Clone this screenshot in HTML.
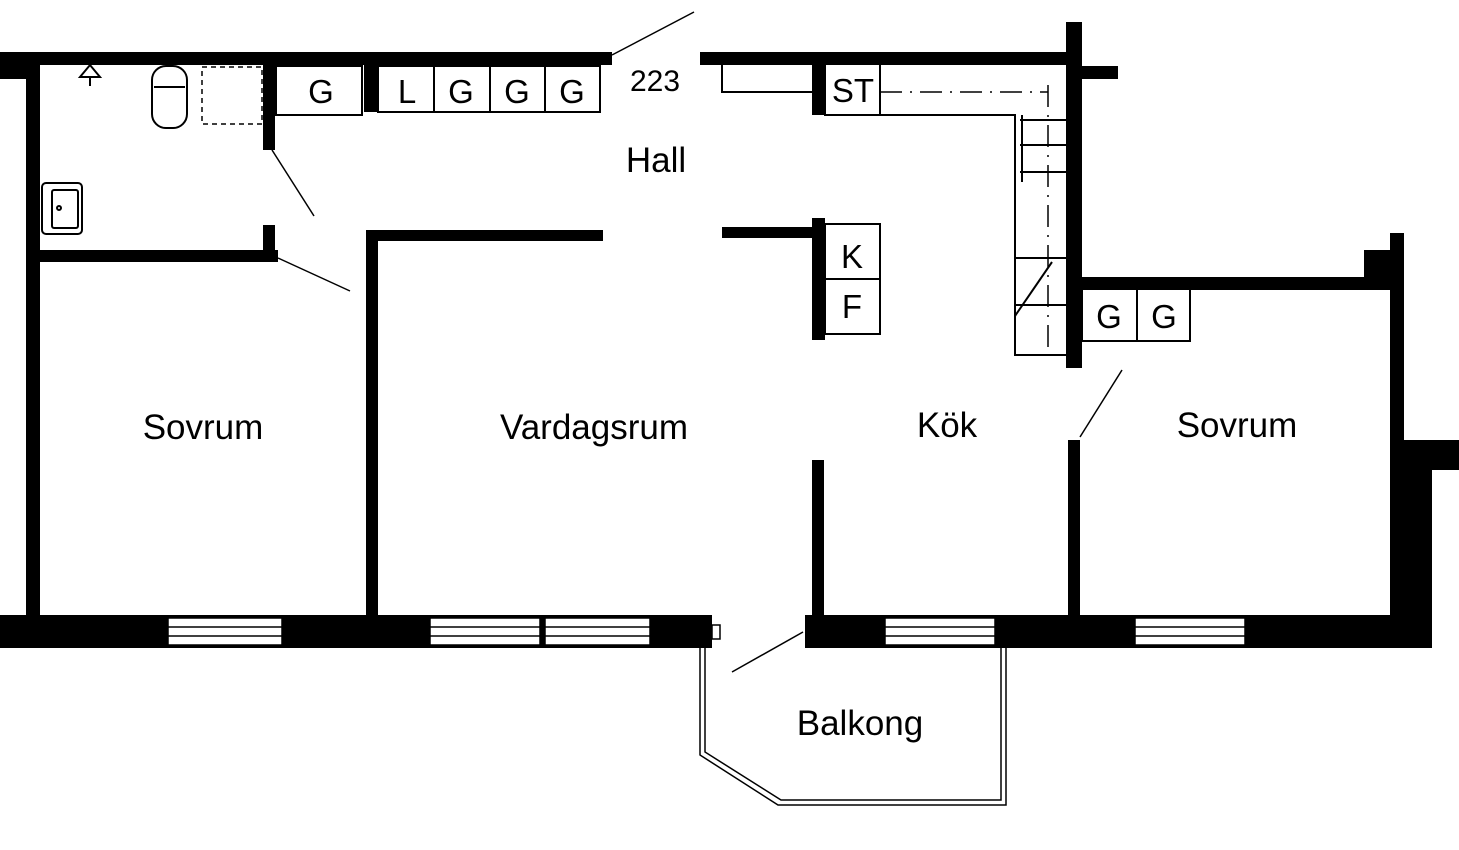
<!DOCTYPE html>
<html><head><meta charset="utf-8"><style>
html,body{margin:0;padding:0;background:#fff;}
svg{display:block;}
text{font-family:"Liberation Sans",Arial,sans-serif;fill:#000;}
</style></head><body>
<svg width="1459" height="850" viewBox="0 0 1459 850" xmlns="http://www.w3.org/2000/svg">
<g fill="#000">
<rect x="0" y="52" width="612" height="13"/>
<rect x="0" y="52" width="28" height="27"/>
<rect x="26" y="52" width="14" height="568"/>
<rect x="700" y="52" width="372" height="13"/>
<rect x="1066" y="22" width="16" height="346"/>
<rect x="1082" y="66" width="36" height="13"/>
<rect x="263" y="64" width="12" height="86"/>
<rect x="40" y="250" width="238" height="12"/>
<rect x="263" y="225" width="12" height="37"/>
<rect x="364" y="64" width="14" height="48"/>
<rect x="366" y="230" width="237" height="11"/>
<rect x="366" y="230" width="12" height="402"/>
<rect x="722" y="227" width="93" height="11"/>
<rect x="812" y="218" width="13" height="122"/>
<rect x="812" y="460" width="12" height="160"/>
<rect x="812" y="64" width="13" height="51"/>
<rect x="1068" y="440" width="12" height="192"/>
<rect x="1082" y="277" width="322" height="13"/>
<rect x="1364" y="250" width="30" height="38"/>
<rect x="1390" y="233" width="14" height="415"/>
<rect x="1404" y="440" width="28" height="208"/>
<rect x="1404" y="440" width="55" height="30"/>
<rect x="0" y="615" width="712" height="33"/>
<rect x="805" y="615" width="627" height="33"/>
</g>
<g fill="#fff" stroke="#000" stroke-width="1.5">
<rect x="168" y="618" width="114" height="27"/>
<rect x="430" y="618" width="110" height="27"/>
<rect x="545" y="618" width="105" height="27"/>
<rect x="885" y="618" width="110" height="27"/>
<rect x="1135" y="618" width="110" height="27"/>
</g>
<g stroke="#000" stroke-width="1.5">
<line x1="168" y1="627" x2="282" y2="627"/><line x1="168" y1="636" x2="282" y2="636"/>
<line x1="430" y1="627" x2="650" y2="627"/><line x1="430" y1="636" x2="650" y2="636"/>
<line x1="885" y1="627" x2="995" y2="627"/><line x1="885" y1="636" x2="995" y2="636"/>
<line x1="1135" y1="627" x2="1245" y2="627"/><line x1="1135" y1="636" x2="1245" y2="636"/>
</g>
<g fill="none" stroke="#000" stroke-width="2">
<rect x="276" y="66" width="86" height="49"/>
<rect x="378" y="66" width="222" height="46"/>
<line x1="434" y1="66" x2="434" y2="112"/><line x1="490" y1="66" x2="490" y2="112"/><line x1="545" y1="66" x2="545" y2="112"/>
<rect x="825" y="224" width="55" height="110"/><line x1="825" y1="279" x2="880" y2="279"/>
<rect x="1082" y="288" width="108" height="53"/><line x1="1137" y1="288" x2="1137" y2="341"/>
<polyline points="722,64 722,92 812,92"/>
<rect x="825" y="64" width="55" height="51"/>
<polyline points="880,115 1015,115 1015,355 1066,355"/>
<line x1="1015" y1="258" x2="1066" y2="258"/>
<line x1="1015" y1="305" x2="1066" y2="305"/>
<line x1="1015" y1="316" x2="1052" y2="262"/>
<line x1="1020" y1="120" x2="1066" y2="120"/>
<line x1="1020" y1="145" x2="1066" y2="145"/>
<line x1="1020" y1="172" x2="1066" y2="172"/>
<line x1="1022" y1="115" x2="1022" y2="182"/>
<line x1="880" y1="92" x2="1048" y2="92" stroke-dasharray="22 8 2 8" stroke-width="1.5"/>
<line x1="1048" y1="85" x2="1048" y2="355" stroke-dasharray="22 8 2 8" stroke-width="1.5"/>
<rect x="202" y="67" width="60" height="57" stroke-dasharray="5 4" stroke-width="1.5"/>
<rect x="152" y="66" width="35" height="62" rx="14"/>
<line x1="154" y1="87" x2="185" y2="87"/>
<rect x="42" y="183" width="40" height="51" rx="4"/>
<rect x="52" y="190" width="26" height="38" rx="2"/>
<circle cx="59" cy="208" r="2"/>
<polygon points="80,77 90,65 100,77" />
<line x1="90" y1="77" x2="90" y2="86"/>
<line x1="612" y1="55" x2="694" y2="12" stroke-width="1.5"/>
<line x1="272" y1="150" x2="314" y2="216" stroke-width="1.5"/>
<line x1="278" y1="258" x2="350" y2="291" stroke-width="1.5"/>
<line x1="1080" y1="437" x2="1122" y2="370" stroke-width="1.5"/>
<line x1="803" y1="632" x2="732" y2="672" stroke-width="1.5"/>
<polyline points="700,648 700,755 778,805 1006,805 1006,648" stroke-width="1.5"/>
<polyline points="705,648 705,752 781,800 1001,800 1001,648" stroke-width="1.5"/>
<rect x="712" y="625" width="8" height="14" stroke-width="1.5"/>
</g>
<g font-size="33" text-anchor="middle">
<text x="321" y="103">G</text>
<text x="407" y="103">L</text>
<text x="461" y="103">G</text>
<text x="517" y="103">G</text>
<text x="572" y="103">G</text>
<text x="853" y="102">ST</text>
<text x="852" y="268">K</text>
<text x="852" y="318">F</text>
<text x="1109" y="328">G</text>
<text x="1164" y="328">G</text>
<text x="655" y="91" font-size="30">223</text>
<g font-size="35">
<text x="656" y="172">Hall</text>
<text x="203" y="439">Sovrum</text>
<text x="594" y="439">Vardagsrum</text>
<text x="947" y="437">Kök</text>
<text x="1237" y="437">Sovrum</text>
<text x="860" y="735">Balkong</text>
</g>
</g>
</svg>
</body></html>
